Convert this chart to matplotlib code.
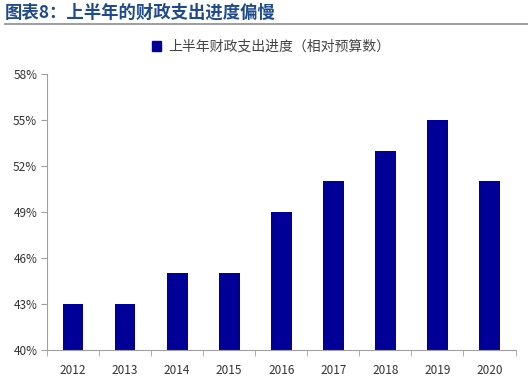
import matplotlib
matplotlib.use("Agg")
import matplotlib.pyplot as plt
from matplotlib.ticker import FixedLocator, FuncFormatter
from matplotlib.lines import Line2D

plt.rcParams['font.family'] = ['Noto Sans CJK SC', 'DejaVu Sans']

years = ['2012', '2013', '2014', '2015', '2016', '2017', '2018', '2019', '2020']
progress = [43, 43, 45, 45, 49, 51, 53, 55, 51]
yticks = [40, 43, 46, 49, 52, 55, 58]
title = '图表8：上半年的财政支出进度偏慢'
series_name = '上半年财政支出进度（相对预算数）'

fig = plt.figure(figsize=(5.28, 3.78), dpi=100)
ax = fig.add_axes([47/528, 1-350/378, (515.5-47)/528, (350-74)/378])

x = list(range(len(years)))
ax.bar(x, progress, width=0.4, color='#000099', bottom=0)
ax.set_ylim(40, 58)
ax.set_xlim(-0.5, len(years)-0.5)
ax.yaxis.set_major_locator(FixedLocator(yticks))
ax.yaxis.set_major_formatter(FuncFormatter(lambda v, p: f'{v:.0f}%'))
ax.set_xticks(x)
ax.set_xticklabels(years)
ax.set_xticks([i + 0.5 for i in range(-1, len(years))], minor=True)
ax.tick_params(axis='x', which='major', length=0, pad=10, labelsize=8.5, colors='#333333')
ax.tick_params(axis='x', which='minor', length=4, color='#a0a0a0', direction='out')
ax.tick_params(axis='y', length=4, color='#a0a0a0', direction='out', labelsize=8.5, labelcolor='#333333', pad=3)
for s in ['top', 'right']:
    ax.spines[s].set_visible(False)
for s in ['left', 'bottom']:
    ax.spines[s].set_color('#a0a0a0')
    ax.spines[s].set_linewidth(0.8)

fig.text(5/528, 1-13/378, title, fontsize=12.5, fontweight='black', color='#1F4A8F', va='center', ha='left')
fig.add_artist(Line2D([5/528, 1], [1-23.5/378, 1-23.5/378], color='#8c8c8c', lw=1.2, transform=fig.transFigure))

handle = plt.Rectangle((0, 0), 1, 1, color='#000099')
fig.legend([handle], [series_name], loc='center', bbox_to_anchor=(271/528, 1-47/378), frameon=False,
           fontsize=10, handlelength=0.7, handleheight=0.7, handletextpad=0.5, labelcolor='#444444')

fig.savefig('out.png', dpi=100)
